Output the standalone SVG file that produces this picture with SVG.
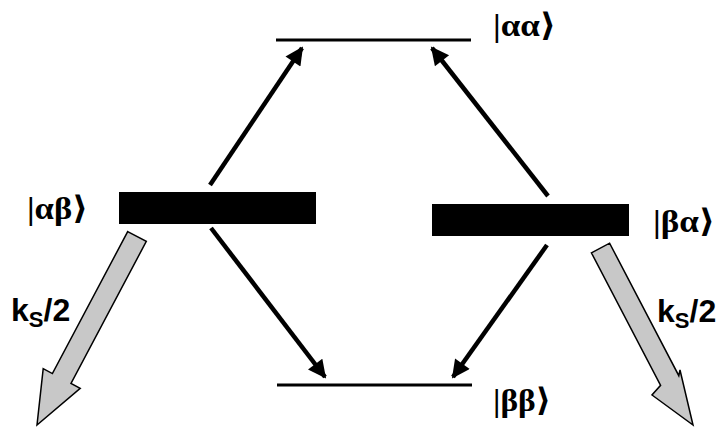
<svg xmlns="http://www.w3.org/2000/svg" width="723" height="428" viewBox="0 0 723 428">
<style>
.lvl{stroke:#000;stroke-width:3;fill:none}
.bar{fill:#000}
.lab{font-family:"Liberation Serif","DejaVu Serif",serif;font-size:32px;font-weight:bold;fill:#000}
.k{font-family:"Liberation Sans",Arial,sans-serif;font-weight:bold;font-size:32px;fill:#000}
.conn{stroke:#000;stroke-width:4.5;fill:none;marker-end:url(#ah)}
.gray{fill:#c8c8c8;stroke:#000;stroke-width:1.5;stroke-linejoin:miter}
</style>
<defs>
<marker id="ah" viewBox="0 0 10 10" refX="9" refY="5" markerWidth="5.5" markerHeight="4" orient="auto" markerUnits="strokeWidth">
<path d="M0,0 L10,5 L0,10 z" fill="#000"/>
</marker>
</defs>
<g id="aa">
<line class="lvl" x1="276" y1="40" x2="471" y2="40"/>
<text class="lab" x="493" y="36" textLength="63" lengthAdjust="spacingAndGlyphs">|αα⟩</text>
</g>
<g id="ab">
<rect class="bar" x="119" y="192" width="197" height="32"/>
<text class="lab" x="27" y="219" textLength="61" lengthAdjust="spacingAndGlyphs">|αβ⟩</text>
</g>
<g id="ba">
<rect class="bar" x="432" y="204" width="197" height="32"/>
<text class="lab" x="653" y="232" textLength="62" lengthAdjust="spacingAndGlyphs">|βα⟩</text>
</g>
<g id="bb">
<line class="lvl" x1="277" y1="385" x2="472" y2="385"/>
<text class="lab" x="493" y="411" textLength="58" lengthAdjust="spacingAndGlyphs">|ββ⟩</text>
</g>
<g id="connectors">
<line class="conn" x1="210" y1="185" x2="302" y2="48"/>
<line class="conn" x1="548" y1="196" x2="432" y2="48"/>
<line class="conn" x1="211" y1="228" x2="325" y2="377"/>
<line class="conn" x1="547" y1="245" x2="453" y2="377"/>
<polygon class="gray" points="127.7,231.6 146.3,241.4 71,383.4 80.2,388.3 37,425 43.2,368.7 52.4,373.6"/>
<polygon class="gray" points="591.4,252.8 609.6,243.2 678.8,375.7 680,370 693,425 652,395 660.6,385.3"/>
<text class="k" x="11" y="321">k<tspan font-size="22" dy="6">S</tspan><tspan dy="-6">/2</tspan></text>
<text class="k" x="657" y="322">k<tspan font-size="22" dy="6">S</tspan><tspan dy="-6">/2</tspan></text>
</g>
</svg>
